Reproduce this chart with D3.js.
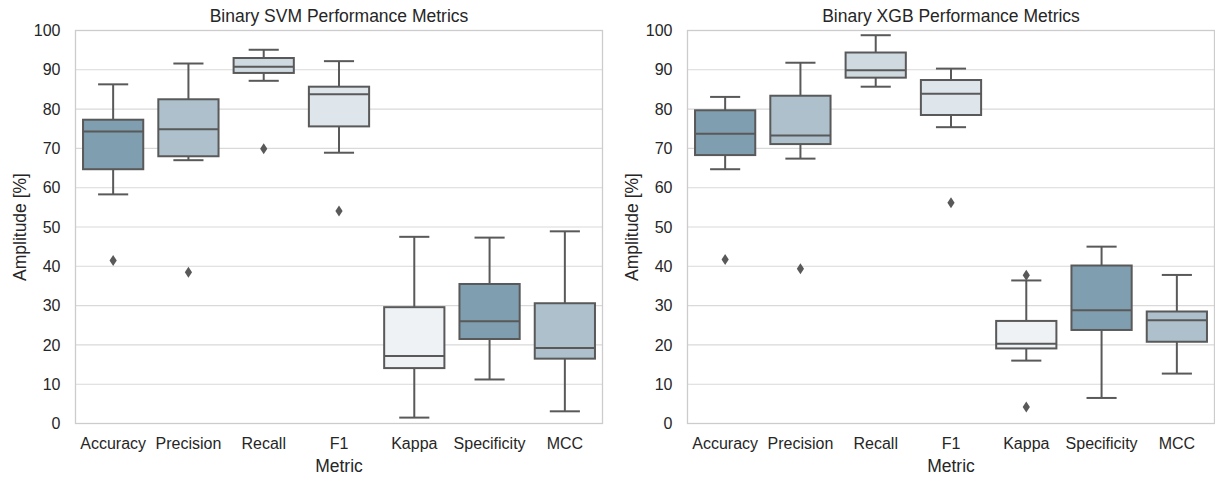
<!DOCTYPE html>
<html>
<head>
<meta charset="utf-8">
<script src="https://cdn.jsdelivr.net/npm/d3@7"></script>
<style>
  html, body { margin: 0; padding: 0; background: #fff; }
  svg text { font-family: "Liberation Sans", Arial, sans-serif; fill: #262626; }
</style>
</head>
<body>
<svg id="chart" width="1215" height="477"></svg>
<script>
// Metric categories shared by both panels
const metrics = ["Accuracy", "Precision", "Recall", "F1", "Kappa", "Specificity", "MCC"];
const yTicks = [0, 10, 20, 30, 40, 50, 60, 70, 80, 90, 100];
const palette = ["#7f9eb0", "#adc0cc", "#cfd9e0", "#dfe6eb", "#eff2f5", "#7f9eb0", "#adc0cc"];

// SVM five-number summaries per metric
const svmLow    = [58.3, 67.0, 87.2, 68.9,  1.5, 11.2,  3.1];
const svmQ1     = [64.7, 68.0, 89.2, 75.6, 14.1, 21.5, 16.5];
const svmMedian = [74.3, 74.9, 90.8, 83.8, 17.2, 26.0, 19.2];
const svmQ3     = [77.3, 82.5, 93.0, 85.7, 29.6, 35.5, 30.6];
const svmHigh   = [86.3, 91.6, 95.1, 92.2, 47.5, 47.3, 48.9];
const svmOutliers = [[41.5], [38.5], [69.9], [54.1], [], [], []];

// XGB five-number summaries per metric
const xgbLow    = [64.7, 67.4, 85.7, 75.4, 16.0,  6.5, 12.7];
const xgbQ1     = [68.3, 71.1, 88.0, 78.5, 19.1, 23.8, 20.8];
const xgbMedian = [73.7, 73.3, 89.9, 83.9, 20.3, 28.8, 26.3];
const xgbQ3     = [79.7, 83.4, 94.4, 87.4, 26.1, 40.2, 28.5];
const xgbHigh   = [83.1, 91.8, 98.8, 90.3, 36.4, 45.0, 37.8];
const xgbOutliers = [[41.7], [39.4], [], [56.2], [37.7, 4.2], [], []];

const panels = [
  { title: "Binary SVM Performance Metrics", left: 75.5, low: svmLow, q1: svmQ1, med: svmMedian, q3: svmQ3, high: svmHigh, out: svmOutliers },
  { title: "Binary XGB Performance Metrics", left: 687.5, low: xgbLow, q1: xgbQ1, med: xgbMedian, q3: xgbQ3, high: xgbHigh, out: xgbOutliers }
];

const svg = d3.select("#chart");
const plotW = 527, plotTop = 30.5, plotBottom = 423.5;
const lineColor = "#595959";
const gridColor = "#d9d9d9";
const tickFont = 16, titleFont = 17.5, labelFont = 17.5;

const y = d3.scaleLinear().domain([0, 100]).range([plotBottom, plotTop]);

panels.forEach(p => {
  const x = d3.scaleBand().domain(metrics).range([p.left, p.left + plotW]).paddingInner(0).paddingOuter(0);
  const g = svg.append("g");

  // horizontal grid
  g.append("g").selectAll("line").data(yTicks).join("line")
    .attr("x1", p.left).attr("x2", p.left + plotW)
    .attr("y1", d => y(d)).attr("y2", d => y(d))
    .attr("stroke", gridColor).attr("stroke-width", 1.1);

  // frame
  g.append("rect").attr("x", p.left).attr("y", plotTop).attr("width", plotW).attr("height", plotBottom - plotTop)
    .attr("fill", "none").attr("stroke", "#cccccc").attr("stroke-width", 1.3);

  // y axis
  const yAxis = d3.axisLeft(y).tickValues(yTicks).tickSize(0).tickPadding(15);
  const ya = g.append("g").attr("transform", `translate(${p.left},0)`).call(yAxis);
  ya.select(".domain").remove();
  ya.selectAll("text").attr("font-size", tickFont).style("fill", "#262626")
    .attr("font-family", "Liberation Sans, Arial, sans-serif");

  // x axis
  const xAxis = d3.axisBottom(x).tickSize(0).tickPadding(14);
  const xa = g.append("g").attr("transform", `translate(0,${plotBottom})`).call(xAxis);
  xa.select(".domain").remove();
  xa.selectAll("text").attr("font-size", tickFont).style("fill", "#262626")
    .attr("font-family", "Liberation Sans, Arial, sans-serif");

  // titles
  g.append("text").attr("x", p.left + plotW / 2).attr("y", 22).attr("text-anchor", "middle")
    .attr("font-size", titleFont).text(p.title);
  g.append("text").attr("x", p.left + plotW / 2).attr("y", 472).attr("text-anchor", "middle")
    .attr("font-size", labelFont).text("Metric");
  g.append("text").attr("transform", `translate(${p.left - 50},${(plotTop + plotBottom) / 2}) rotate(-90)`)
    .attr("text-anchor", "middle").attr("font-size", labelFont).text("Amplitude [%]");

  const bw = x.bandwidth() * 0.8;
  const cw = bw / 2;
  metrics.forEach((m, i) => {
    const cx = x(m) + x.bandwidth() / 2;
    const b = g.append("g");
    // whiskers
    b.append("line").attr("x1", cx).attr("x2", cx).attr("y1", y(p.high[i])).attr("y2", y(p.q3[i]))
      .attr("stroke", lineColor).attr("stroke-width", 2);
    b.append("line").attr("x1", cx).attr("x2", cx).attr("y1", y(p.q1[i])).attr("y2", y(p.low[i]))
      .attr("stroke", lineColor).attr("stroke-width", 2);
    // caps
    [p.high[i], p.low[i]].forEach(v => {
      b.append("line").attr("x1", cx - cw / 2).attr("x2", cx + cw / 2).attr("y1", y(v)).attr("y2", y(v))
        .attr("stroke", lineColor).attr("stroke-width", 2);
    });
    // box
    b.append("rect").attr("x", cx - bw / 2).attr("width", bw)
      .attr("y", y(p.q3[i])).attr("height", y(p.q1[i]) - y(p.q3[i]))
      .attr("fill", palette[i]).attr("stroke", lineColor).attr("stroke-width", 2);
    // median
    b.append("line").attr("x1", cx - bw / 2).attr("x2", cx + bw / 2)
      .attr("y1", y(p.med[i])).attr("y2", y(p.med[i]))
      .attr("stroke", lineColor).attr("stroke-width", 2);
    // outliers as diamonds
    b.selectAll("path").data(p.out[i]).join("path")
      .attr("d", d => `M${cx},${y(d) - 5.5}L${cx + 3.6},${y(d)}L${cx},${y(d) + 5.5}L${cx - 3.6},${y(d)}Z`)
      .attr("fill", "#595959");
  });
});
</script>
</body>
</html>
